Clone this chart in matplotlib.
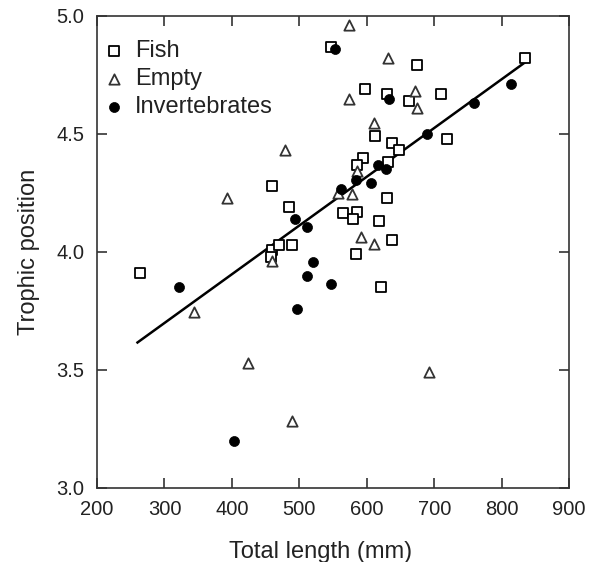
import matplotlib.pyplot as plt

plt.rcParams['font.family'] = ['Liberation Sans', 'DejaVu Sans']

# Fish diet
fish_x = [263, 459, 470, 489, 458, 459, 484, 547, 597, 630, 663, 675, 710, 834,
          719, 612, 637, 648, 595, 586, 632, 630, 565, 586, 580, 618, 638, 584, 621]
fish_y = [3.91, 4.01, 4.03, 4.03, 3.98, 4.28, 4.19, 4.87, 4.69, 4.67, 4.64, 4.79, 4.67, 4.82,
          4.48, 4.49, 4.46, 4.43, 4.40, 4.37, 4.38, 4.23, 4.165, 4.17, 4.14, 4.13, 4.05, 3.99, 3.85]

# Empty stomachs
empty_x = [573, 631, 574, 672, 674, 611, 585, 479, 392, 557, 578, 592, 611, 460,
           344, 424, 489, 692]
empty_y = [4.96, 4.82, 4.65, 4.68, 4.61, 4.545, 4.345, 4.43, 4.23, 4.25, 4.245, 4.065, 4.034, 3.963,
           3.745, 3.53, 3.285, 3.49]

# Invertebrate diet
inv_x = [553, 633, 814, 759, 689, 617, 629, 584, 606, 562, 494, 512, 520, 511,
         547, 496, 322, 403]
inv_y = [4.86, 4.65, 4.71, 4.63, 4.50, 4.37, 4.35, 4.305, 4.29, 4.265, 4.14, 4.105, 3.956, 3.90,
         3.865, 3.76, 3.853, 3.20]

# regression line
fit_x = [260, 840]
fit_intercept = 3.0795
fit_slope = 0.002065
fit_y = [fit_intercept + fit_slope * x for x in fit_x]

fig = plt.figure(figsize=(5.99, 5.62), dpi=100)
ax = fig.add_axes([0.162, 0.1317, 0.788, 0.84])

ax.plot(fit_x, fit_y, color='black', lw=1.8, zorder=2)
ax.scatter(fish_x, fish_y, marker='s', s=50, facecolor='white', edgecolor='black',
           linewidth=1.3, zorder=3, label='Fish')
ax.scatter(empty_x, empty_y, marker='^', s=55, facecolor='white', edgecolor='#333333',
           linewidth=1.3, zorder=3, label='Empty')
ax.scatter(inv_x, inv_y, marker='o', s=52, facecolor='black', edgecolor='black',
           linewidth=0.5, zorder=4, label='Invertebrates')

ax.set_xlim(200, 900)
ax.set_ylim(3.0, 5.0)
ax.set_xticks(range(200, 901, 100))
ax.set_yticks([3.0, 3.5, 4.0, 4.5, 5.0])
ax.set_yticklabels(['3.0', '3.5', '4.0', '4.5', '5.0'])
ax.tick_params(direction='in', length=7, width=1.2, top=True, right=True,
               labelsize=14.5, pad=9, color='#333333', labelcolor='#222222')
for sp in ax.spines.values():
    sp.set_linewidth(1.2)
    sp.set_color('#333333')

ax.set_xlabel('Total length (mm)', fontsize=17, color='#222222', va='top')
ax.xaxis.set_label_coords(0.474, -0.113)
ax.set_ylabel('Trophic position', fontsize=17, labelpad=12, color='#222222')

ax.legend(loc='upper left', frameon=False, fontsize=17, handletextpad=0.6,
          labelspacing=0.25, borderaxespad=0.0, borderpad=0.4, handlelength=0.6,
          bbox_to_anchor=(0.0, 0.968), labelcolor='#222222')

fig.savefig('out.png', dpi=100)
